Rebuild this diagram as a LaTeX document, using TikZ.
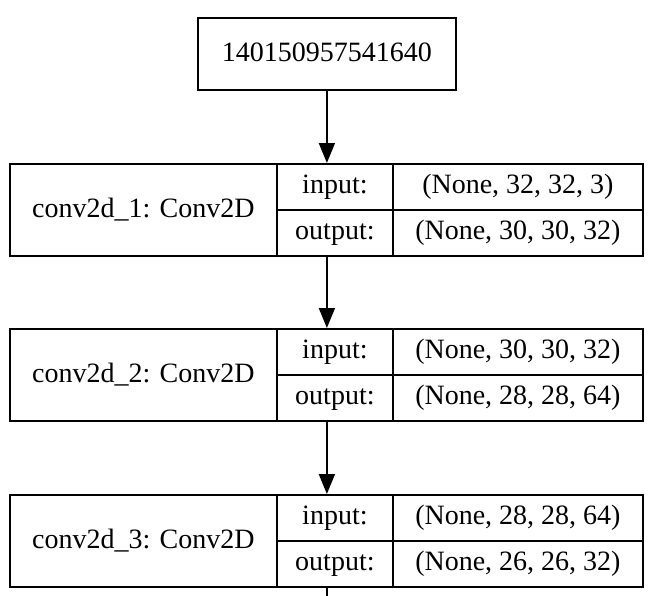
\documentclass[tikz,border=0pt]{standalone}
\usepackage{fontspec}
\setmainfont{Liberation Serif}
\usetikzlibrary{arrows.meta}
\begin{document}
\begin{tikzpicture}[x=1pt,y=-1pt,
  every node/.style={font=\fontsize{28}{33}\selectfont},
  cell/.style={draw,line width=1.8pt,inner sep=0pt,anchor=north west,
               text height=19pt,text depth=6pt},
  namecell/.style={cell,text depth=3pt},
  flow/.style={line width=1.8pt,-{Triangle[length=20pt,width=16pt]}}]
\useasboundingbox (0,0) rectangle (664,595);
% input node
\node[namecell,minimum width=258pt,minimum height=72pt] (top) at (197,17) {140150957541640};
% one record per layer: name | input/output labels | shapes
\foreach \i/\t/\nm/\inp/\outp in {1/163/conv2d\_1: Conv2D/{(None, 32, 32, 3)}/{(None, 30, 30, 32)},
                                   2/328/conv2d\_2: Conv2D/{(None, 30, 30, 32)}/{(None, 28, 28, 64)},
                                   3/494/conv2d\_3: Conv2D/{(None, 28, 28, 64)}/{(None, 26, 26, 32)}}{
  \node[namecell,minimum width=267pt,minimum height=92pt] (name\i) at (9,\t) {\nm};
  \node[cell,minimum width=116pt,minimum height=46pt] (inl\i) at (276,\t) {input:};
  \node[cell,minimum width=116pt,minimum height=46pt] (outl\i) at (276,\t+46) {output:};
  \node[cell,minimum width=250pt,minimum height=46pt] (inv\i) at (392,\t) {\inp};
  \node[cell,minimum width=250pt,minimum height=46pt] (outv\i) at (392,\t+46) {\outp};
}
\coordinate (tail) at (326,600);
\draw[flow] (top.south) -- (top.south |- name1.north);
\draw[flow] (top.south |- name1.south) -- (top.south |- name2.north);
\draw[flow] (top.south |- name2.south) -- (top.south |- name3.north);
\draw[line width=1.8pt] (top.south |- name3.south) -- (top.south |- tail);
\end{tikzpicture}
\end{document}
